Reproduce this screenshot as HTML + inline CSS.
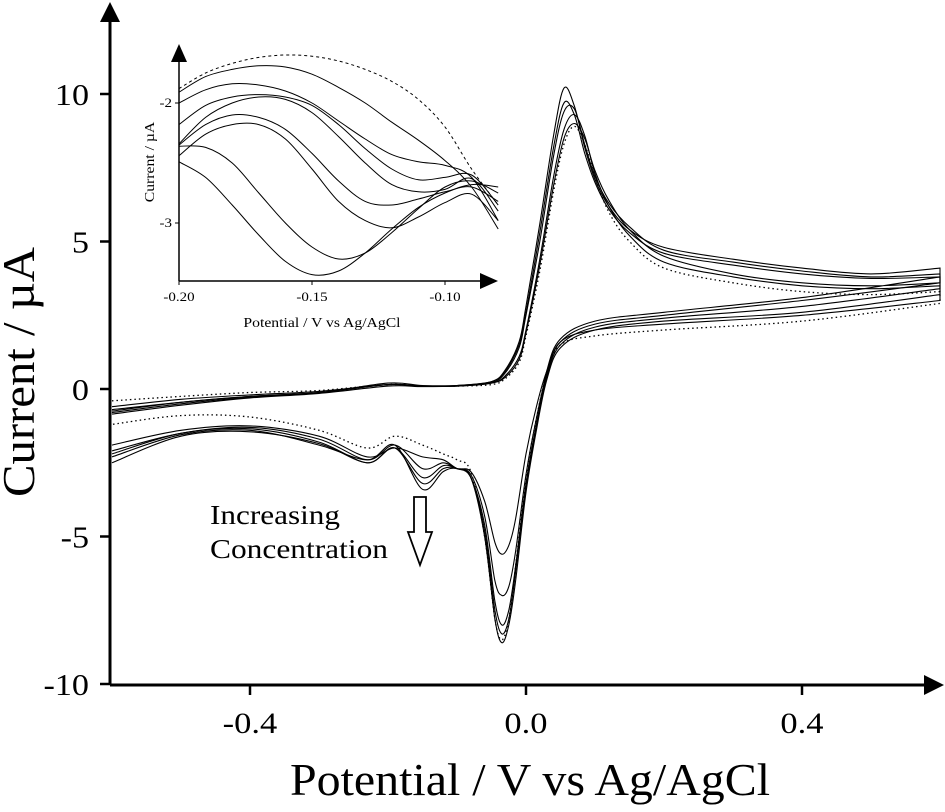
<!DOCTYPE html>
<html><head><meta charset="utf-8"><style>
body{margin:0;background:#fff}
svg{display:block;font-family:"Liberation Serif",serif}
</style></head><body>
<svg id="chart" width="945" height="812" viewBox="0 0 945 812" xmlns="http://www.w3.org/2000/svg">
<g id="main-curves"></g>
<g id="axes"></g>
<g id="inset"></g>
<g>
<text x="210" y="524" font-size="27" textLength="130" lengthAdjust="spacingAndGlyphs">Increasing</text>
<text x="210" y="558" font-size="27" textLength="178" lengthAdjust="spacingAndGlyphs">Concentration</text>
<path d="M414,497 L426,497 L426,532 L432,532 L420,565 L408,532 L414,532 Z" fill="#fff" stroke="#000" stroke-width="1.8"/>
</g>
<text x="530" y="795" font-size="46" text-anchor="middle" textLength="480" lengthAdjust="spacingAndGlyphs">Potential / V vs Ag/AgCl</text>
<text transform="translate(34,372) rotate(-90)" font-size="45" text-anchor="middle" textLength="250" lengthAdjust="spacingAndGlyphs">Current / µA</text>
</svg>
<script>
// ---- main chart data ----
const upperV = [-0.6,-0.5,-0.4,-0.3,-0.2,-0.15,-0.1,-0.05,-0.03,-0.01,0.0,0.02,0.04,0.055,0.07,0.085,0.1,0.12,0.15,0.2,0.3,0.4,0.5,0.6];
const lowerV = [0.6,0.4,0.2,0.1,0.05,0.03,0.015,0.0,-0.015,-0.025,-0.035,-0.045,-0.06,-0.08,-0.1,-0.12,-0.15,-0.19,-0.23,-0.3,-0.4,-0.5,-0.6];
const seriesAUpper = [-0.7,-0.45,-0.25,-0.12,0.15,0.1,0.12,0.25,0.6,1.5,2.6,5.3,8.2,9.7,9.3,8.0,7.0,6.1,5.3,4.6,4.2,3.9,3.75,3.8];
const seriesALower = [3.4,2.8,2.4,2.1,1.5,0.4,-1.2,-3.2,-6.0,-7.5,-8.0,-7.2,-4.6,-3.0,-2.7,-2.6,-3.0,-2.0,-2.5,-1.8,-1.35,-1.5,-2.2];
const seriesBUpper = [-0.8,-0.5,-0.28,-0.13,0.2,0.12,0.12,0.25,0.65,1.6,2.8,5.6,8.6,10.2,9.6,8.2,7.1,6.2,5.4,4.8,4.4,4.1,3.9,4.1];
const seriesBLower = [3.2,2.6,2.3,2.0,1.4,0.3,-1.4,-3.5,-6.5,-8.0,-8.6,-7.8,-5.0,-3.0,-2.7,-2.8,-3.4,-1.9,-2.4,-1.9,-1.4,-1.55,-2.3];
const seriesCUpper = [-0.6,-0.35,-0.2,-0.08,0.15,0.1,0.1,0.2,0.45,1.1,2.0,4.4,7.2,8.8,9.3,8.6,7.3,6.2,5.2,4.3,3.8,3.5,3.4,3.5];
const seriesCLower = [3.0,2.5,2.2,2.0,1.6,0.6,-0.6,-2.2,-4.4,-5.3,-5.6,-5.2,-3.8,-2.8,-2.7,-2.4,-2.3,-2.0,-2.3,-1.6,-1.25,-1.4,-1.9];
const seriesDUpper = [-0.75,-0.45,-0.25,-0.12,0.15,0.1,0.1,0.22,0.55,1.4,2.5,5.0,7.9,9.4,9.5,8.3,7.2,6.3,5.5,4.7,4.3,4.0,3.8,3.9];
const seriesDLower = [3.6,3.0,2.5,2.2,1.6,0.5,-1.0,-2.9,-5.5,-6.7,-7.0,-6.5,-4.3,-2.9,-2.7,-2.5,-2.7,-1.9,-2.4,-1.7,-1.3,-1.5,-2.1];
const seriesEUpper = [-0.85,-0.55,-0.3,-0.15,0.1,0.08,0.1,0.2,0.4,1.0,1.9,4.2,6.9,8.5,9.0,8.5,7.4,6.4,5.4,4.5,3.9,3.6,3.5,3.6];
const seriesELower = [3.8,3.1,2.6,2.3,1.7,0.6,-1.3,-3.3,-6.2,-7.8,-8.3,-7.5,-4.8,-3.0,-2.7,-2.7,-3.2,-2.0,-2.5,-1.85,-1.45,-1.6,-2.5];
const blankUpper = [-0.4,-0.25,-0.12,-0.05,0.15,0.1,0.1,0.15,0.35,0.9,1.8,4.0,6.7,8.3,8.9,8.3,7.2,6.0,5.0,4.1,3.6,3.3,3.2,3.3];
const blankLower = [2.9,2.3,2.0,1.8,1.5,0.5,-1.0,-3.0,-6.0,-7.8,-8.5,-7.8,-5.0,-2.8,-2.4,-2.2,-1.9,-1.6,-2.0,-1.4,-0.95,-0.9,-1.2];
const xTickValues = [-0.4,0.0,0.4];
const xTickLabels = ["-0.4","0.0","0.4"];
const yTickValues = [10,5,0,-5,-10];
const yTickLabels = ["10","5","0","-5","-10"];
// ---- inset data ----
const insetV = [-0.2,-0.19,-0.18,-0.17,-0.16,-0.15,-0.14,-0.13,-0.12,-0.11,-0.10,-0.09,-0.08];
const insetBlank = [-1.88,-1.75,-1.67,-1.62,-1.60,-1.61,-1.65,-1.72,-1.82,-1.97,-2.2,-2.55,-2.85];
const inset1 = [-1.91,-1.78,-1.72,-1.69,-1.70,-1.76,-1.87,-2.0,-2.16,-2.31,-2.48,-2.70,-3.05];
const inset2 = [-2.0,-1.89,-1.84,-1.85,-1.90,-2.0,-2.15,-2.3,-2.43,-2.49,-2.52,-2.62,-2.98];
const inset3 = [-2.18,-2.02,-1.95,-1.93,-1.95,-2.02,-2.18,-2.38,-2.55,-2.64,-2.62,-2.6,-2.85];
const inset4 = [-2.34,-2.12,-2.0,-1.95,-1.97,-2.08,-2.28,-2.5,-2.68,-2.74,-2.72,-2.63,-2.9];
const inset5 = [-2.35,-2.18,-2.1,-2.12,-2.22,-2.42,-2.65,-2.82,-2.85,-2.8,-2.74,-2.7,-2.82];
const inset6 = [-2.44,-2.26,-2.18,-2.18,-2.3,-2.55,-2.82,-2.98,-3.04,-2.95,-2.83,-2.76,-2.98];
const inset7 = [-2.36,-2.37,-2.5,-2.75,-3.0,-3.2,-3.3,-3.25,-3.08,-2.88,-2.7,-2.65,-2.75];
const inset8 = [-2.49,-2.62,-2.85,-3.1,-3.32,-3.43,-3.4,-3.25,-3.05,-2.87,-2.75,-2.68,-2.7];
const insetXTicks = [-0.20,-0.15,-0.10];
const insetXLabels = ["-0.20","-0.15","-0.10"];
const insetYTicks = [-2,-3];
const insetYLabels = ["-2","-3"];

const NS = "http://www.w3.org/2000/svg";
function X(v){return 526 + v*690;}
function Y(i){return 389 - i*29.5;}
function IX(v){return 179 + (v+0.2)*2660;}
function IY(i){return 103 - (i+2)*120;}
function mk(tag, attrs, parent){const e=document.createElementNS(NS,tag);for(const k in attrs)e.setAttribute(k,attrs[k]);parent.appendChild(e);return e;}
function stretch(t,f){const w=t.getComputedTextLength();t.setAttribute("textLength",(w*f).toFixed(1));t.setAttribute("lengthAdjust","spacingAndGlyphs");}
function smooth(pts){
  let d="M"+pts[0][0].toFixed(1)+","+pts[0][1].toFixed(1);
  for(let i=0;i<pts.length-1;i++){
    const p0=pts[Math.max(0,i-1)],p1=pts[i],p2=pts[i+1],p3=pts[Math.min(pts.length-1,i+2)];
    const c1=[p1[0]+(p2[0]-p0[0])/6,p1[1]+(p2[1]-p0[1])/6];
    const c2=[p2[0]-(p3[0]-p1[0])/6,p2[1]-(p3[1]-p1[1])/6];
    d+=" C"+c1[0].toFixed(1)+","+c1[1].toFixed(1)+" "+c2[0].toFixed(1)+","+c2[1].toFixed(1)+" "+p2[0].toFixed(1)+","+p2[1].toFixed(1);
  }
  return d;
}
const mainG=document.getElementById("main-curves");
const mainSeries=[["series-a",seriesAUpper,seriesALower,false],["series-b",seriesBUpper,seriesBLower,false],["series-c",seriesCUpper,seriesCLower,false],["series-d",seriesDUpper,seriesDLower,false],["series-e",seriesEUpper,seriesELower,false],["blank-series",blankUpper,blankLower,true]];
mainSeries.forEach(s=>{
  const up=upperV.map((v,i)=>[X(v),Y(s[1][i])]);
  const lo=lowerV.map((v,i)=>[X(v),Y(s[2][i])]);
  const p=mk("path",{d:smooth(up)+" "+smooth(lo).replace("M","L"),fill:"none",stroke:"#000","stroke-width":s[3]?1.3:1.1,"stroke-dasharray":s[3]?"1.5 3":"none"},mainG);
  
  
});
const ax=document.getElementById("axes");
let l=mk("line",{x1:110,y1:685,x2:110,y2:20,stroke:"#000","stroke-width":3},ax);


l=mk("path",{d:"M100,22 L120,22 L110,2 Z",fill:"#000"},ax);


l=mk("line",{x1:110,y1:685,x2:926,y2:685,stroke:"#000","stroke-width":3},ax);


l=mk("path",{d:"M924,675 L924,695 L944,685 Z",fill:"#000"},ax);


xTickValues.forEach((v,i)=>{
  const t=mk("line",{x1:X(v),y1:685,x2:X(v),y2:695,stroke:"#000","stroke-width":2.5},ax);
  
  
  const tx=mk("text",{x:X(v),y:733,"font-size":30,"text-anchor":"middle"},ax);
  tx.textContent=xTickLabels[i];
  
  
  stretch(tx,1.15);
});
yTickValues.forEach((v,i)=>{
  const t=mk("line",{x1:100,y1:Y(v),x2:110,y2:Y(v),stroke:"#000","stroke-width":2.5},ax);
  
  
  const tx=mk("text",{x:89,y:Y(v)+11,"font-size":31,"text-anchor":"end"},ax);
  tx.textContent=yTickLabels[i];
  
  
  stretch(tx,1.1);
});
// inset
const ig=document.getElementById("inset");
const insetSeries=[inset1,inset2,inset3,inset4,inset5,inset6,inset7,inset8];
insetSeries.forEach((s,k)=>{
  const p=mk("path",{d:smooth(insetV.map((v,i)=>[IX(v),IY(s[i])])),fill:"none",stroke:"#000","stroke-width":1},ig);
  
  
});
let ib=mk("path",{d:smooth(insetV.map((v,i)=>[IX(v),IY(insetBlank[i])])),fill:"none",stroke:"#000","stroke-width":1,"stroke-dasharray":"3 3"},ig);


l=mk("line",{x1:179,y1:281,x2:179,y2:58,stroke:"#000","stroke-width":1.5},ig);


l=mk("path",{d:"M171,62 L187,62 L179,44 Z",fill:"#000"},ig);


l=mk("line",{x1:179,y1:281,x2:482,y2:281,stroke:"#000","stroke-width":1.5},ig);


l=mk("path",{d:"M480,273 L480,289 L498,281 Z",fill:"#000"},ig);


insetXTicks.forEach((v,i)=>{
  const t=mk("line",{x1:IX(v),y1:281,x2:IX(v),y2:285,stroke:"#000","stroke-width":1},ig);
  
  
  const tx=mk("text",{x:IX(v),y:301,"font-size":13,"text-anchor":"middle"},ig);
  tx.textContent=insetXLabels[i];
  
  
  stretch(tx,1.15);
});
insetYTicks.forEach((v,i)=>{
  const t=mk("line",{x1:175,y1:IY(v),x2:179,y2:IY(v),stroke:"#000","stroke-width":1},ig);
  
  
  const tx=mk("text",{x:172,y:IY(v)+4,"font-size":13,"text-anchor":"end"},ig);
  tx.textContent=insetYLabels[i];
  
  
  stretch(tx,1.15);
});
let it=mk("text",{x:322,y:327,"font-size":14,"text-anchor":"middle"},ig);
it.textContent="Potential / V vs Ag/AgCl";


stretch(it,1.12);
it=mk("text",{transform:"translate(154,162) rotate(-90)","font-size":14,"text-anchor":"middle"},ig);
it.textContent="Current / µA";


stretch(it,1.12);
</script>
</body></html>
